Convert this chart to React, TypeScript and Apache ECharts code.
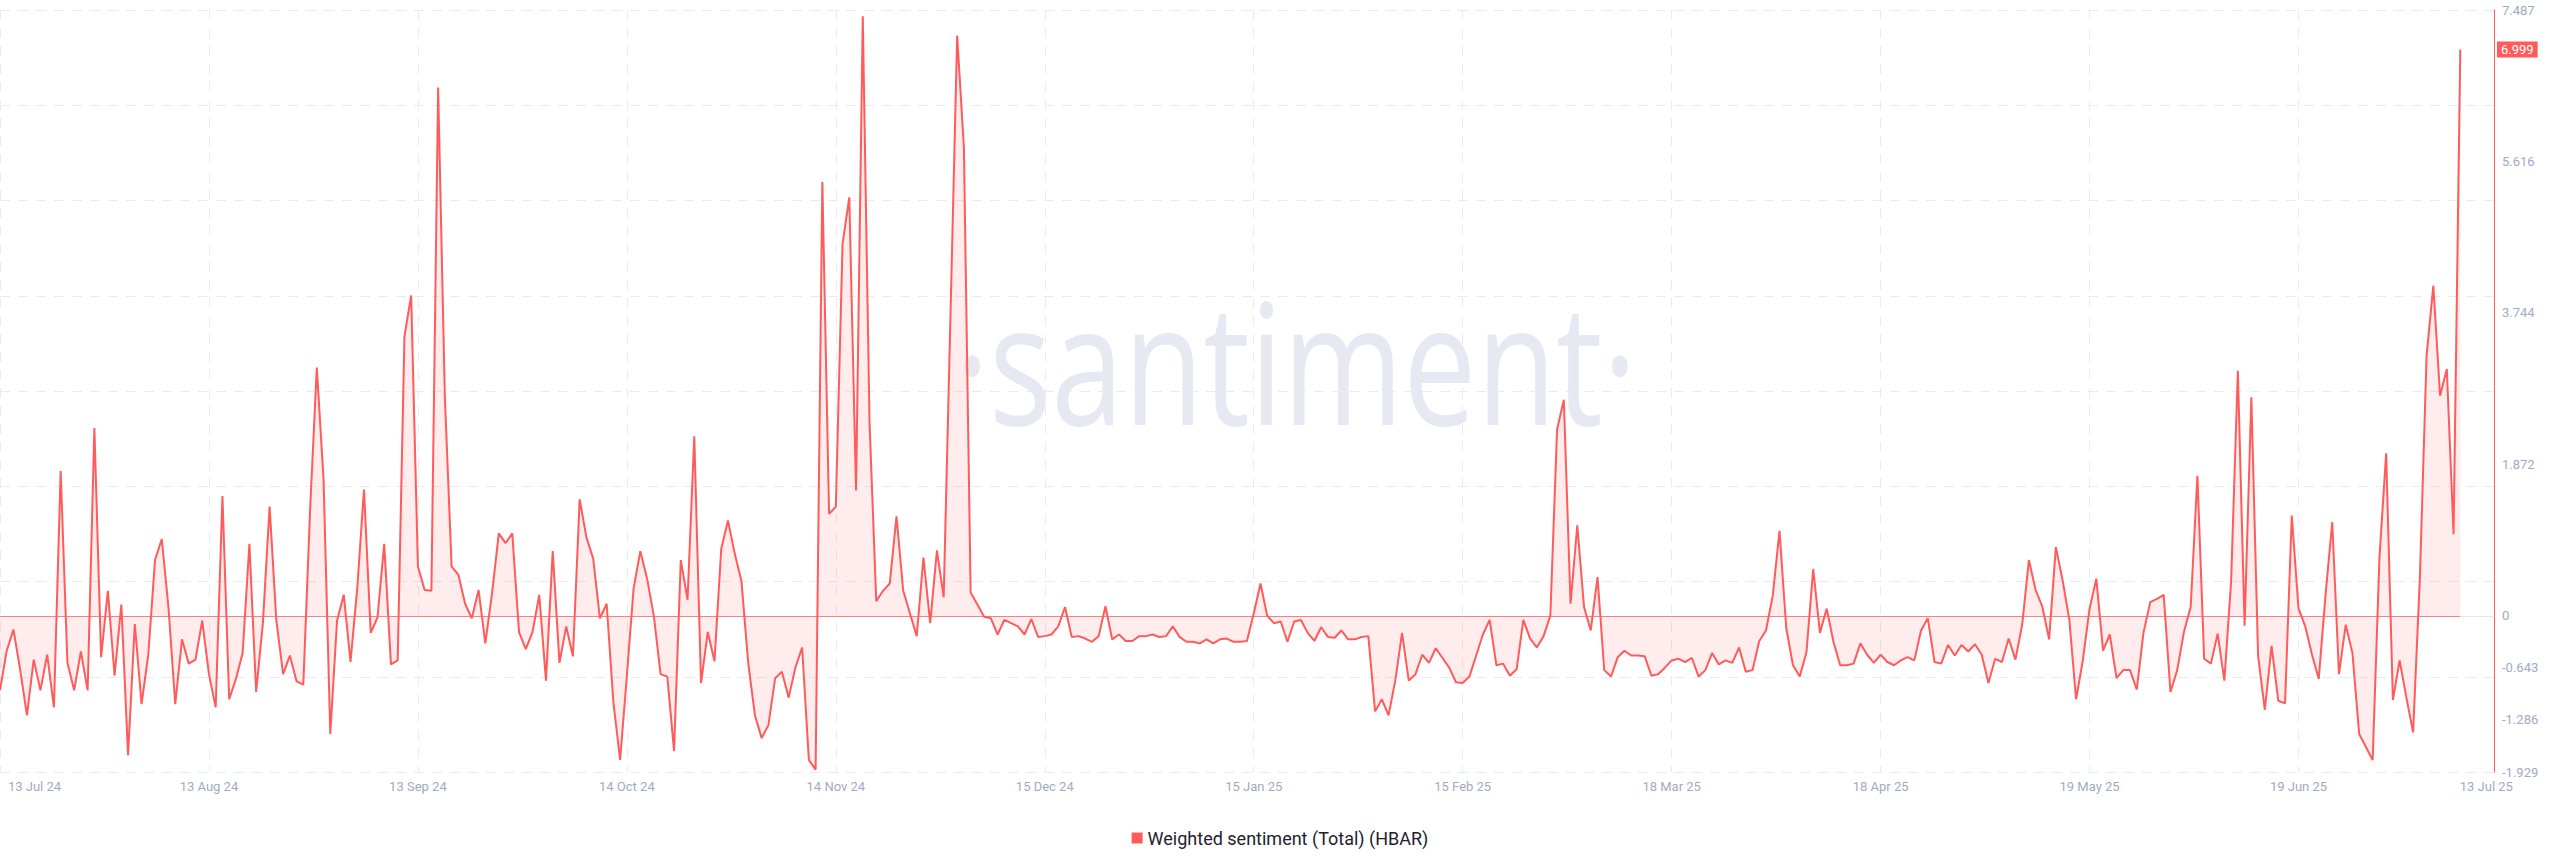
import React, { useEffect, useRef } from "react";
import * as echarts from "echarts";

// Weighted sentiment (Total) (HBAR), daily from 13 Jul 24 to 13 Jul 25
const SENT_JUL_SEP_24 = [
  -0.92, -0.43, -0.17, -0.67, -1.23, -0.54, -0.92, -0.48, -1.13, 1.79,
  -0.58, -0.92, -0.44, -0.92, 2.32, -0.51, 0.31, -0.74, 0.14, -1.72,
  -0.1, -1.09, -0.48, 0.69, 0.95, 0.1, -1.09, -0.29, -0.59, -0.54,
  -0.06, -0.72, -1.13, 1.48, -1.03, -0.78, -0.46, 0.89, -0.94, -0.09,
  1.35, -0.06, -0.72, -0.49, -0.81, -0.85, 1.3, 3.07, 1.69, -1.46,
  -0.06, 0.26, -0.57, 0.34, 1.56, -0.21, -0.02, 0.89, -0.6, -0.55,
  3.45, 3.96, 0.61, 0.32, 0.31, 6.53, 2.7, 0.61, 0.51, 0.15,
  -0.03, 0.32, -0.34, 0.28, 1.02, 0.9, 1.02, -0.2, -0.41, -0.2,
  0.26, -0.8, 0.8, -0.58, -0.13, -0.5, 1.44, 0.97, 0.71, -0.03,
  0.15,
];
const SENT_OCT_DEC_24 = [
  -1.07, -1.78, -0.74, 0.34, 0.8, 0.46, 0.0, -0.72, -0.75,
  -1.67, 0.69, 0.2, 2.22, -0.83, -0.2, -0.56, 0.83, 1.18, 0.77,
  0.43, -0.58, -1.23, -1.51, -1.35, -0.77, -0.69, -1.01, -0.64, -0.39,
  -1.78, -1.9, 5.36, 1.26, 1.35, 4.6, 5.17, 1.55, 7.41, 2.39,
  0.18, 0.31, 0.4, 1.23, 0.31, 0.03, -0.25, 0.72, -0.09, 0.81,
  0.23, 3.68, 7.17, 5.79, 0.29, 0.14, -0.01, -0.03, -0.23, -0.05,
  -0.09, -0.13, -0.23, -0.04, -0.26, -0.25, -0.23, -0.13, 0.11, -0.26,
  -0.25, -0.28, -0.32, -0.25, 0.12, -0.29, -0.23, -0.31, -0.31, -0.25,
  -0.25, -0.23, -0.26, -0.25, -0.13, -0.26, -0.32, -0.32, -0.34, -0.29,
  -0.34, -0.29,
];
const SENT_JAN_MAR_25 = [
  -0.28, -0.32, -0.32, -0.31, 0.03, 0.4, 0.0, -0.09, -0.07,
  -0.32, -0.07, -0.05, -0.21, -0.31, -0.14, -0.26, -0.27, -0.18, -0.29,
  -0.29, -0.26, -0.25, -1.18, -1.03, -1.23, -0.8, -0.21, -0.8, -0.72,
  -0.48, -0.58, -0.4, -0.52, -0.64, -0.82, -0.83, -0.75, -0.49, -0.23,
  -0.05, -0.61, -0.59, -0.74, -0.66, -0.05, -0.28, -0.39, -0.25, 0.0,
  2.3, 2.67, 0.15, 1.12, 0.11, -0.18, 0.48, -0.67, -0.75, -0.51,
  -0.43, -0.49, -0.49, -0.5, -0.74, -0.72, -0.64, -0.55, -0.53, -0.57,
  -0.52, -0.75, -0.67, -0.46, -0.6, -0.55, -0.58, -0.39, -0.69, -0.67,
  -0.31, -0.18, 0.25, 1.05, -0.15, -0.61, -0.75, -0.45, 0.58, -0.21,
  0.09, -0.32,
];
const SENT_APR_JUL_25 = [
  -0.61, -0.61, -0.59, -0.34, -0.48, -0.58, -0.48, -0.57, -0.61,
  -0.55, -0.51, -0.55, -0.18, -0.03, -0.57, -0.59, -0.36, -0.49, -0.36,
  -0.44, -0.35, -0.48, -0.83, -0.53, -0.57, -0.28, -0.54, -0.11, 0.69,
  0.32, 0.11, -0.29, 0.85, 0.44, -0.05, -1.03, -0.55, 0.09, 0.46,
  -0.43, -0.23, -0.77, -0.67, -0.67, -0.91, -0.21, 0.17, 0.21, 0.26,
  -0.94, -0.67, -0.2, 0.11, 1.73, -0.53, -0.59, -0.22, -0.8, 0.43,
  3.03, -0.12, 2.7, -0.49, -1.16, -0.37, -1.05, -1.08, 1.24, 0.09,
  -0.13, -0.48, -0.78, 0.25, 1.16, -0.72, -0.11, -0.46, -1.46, -1.62,
  -1.78, 0.71, 2.01, -1.04, -0.55, -1.01, -1.44, 0.46, 3.22, 4.08,
  2.72, 3.05, 1.01, 6.999,
];

const SERIES_NAME = "Weighted sentiment (Total) (HBAR)";
const Y_TICK_VALUES = [-1.929, -1.286, -0.643, 0, 1.872, 3.744, 5.616, 7.487];
const Y_MIN = -1.929;
const Y_MAX = 7.487;
const START_DATE = "2024-07-13";
const TICK_EVERY_DAYS = 31;
const MONTHS = ["Jan", "Feb", "Mar", "Apr", "May", "Jun", "Jul", "Aug", "Sep", "Oct", "Nov", "Dec"];

const values = [...SENT_JUL_SEP_24, ...SENT_OCT_DEC_24, ...SENT_JAN_MAR_25, ...SENT_APR_JUL_25];
const startMs = Date.parse(START_DATE + "T00:00:00Z");
const dates = values.map((_, i) => {
  const d = new Date(startMs + i * 86400000);
  return `${d.getUTCDate()} ${MONTHS[d.getUTCMonth()]} ${String(d.getUTCFullYear()).slice(2)}`;
});
const PAD = 5;
const categories = [...dates, ...new Array(PAD).fill("")];
const lastIdx = values.length - 1;
const lastValue = values[lastIdx];

const RED = "#ff5b5b";
const AXIS_TEXT = "#9faac4";
const GRID = "#e9ebf3";
const FONT = "Roboto";

export default function App() {
  const ref = useRef<HTMLDivElement>(null);
  useEffect(() => {
    if (!ref.current) return;
    const chart = echarts.init(ref.current, null, { renderer: "svg" });
    const lastTickIdx = Math.floor((lastIdx - 20) / TICK_EVERY_DAYS) * TICK_EVERY_DAYS;
    chart.setOption({
      animation: false,
      backgroundColor: "#ffffff",
      grid: { left: 0, right: 66, top: 10, bottom: 95, containLabel: false },
      graphic: [
        {
          type: "text",
          x: 1296,
          y: 360,
          z: 0,
          scaleX: 0.775,
          silent: true,
          style: {
            text: "·santiment·",
            fontSize: 168,
            fontFamily: "Open Sans",
            fill: "#e6e9f2",
            textAlign: "center",
            textVerticalAlign: "middle",
          },
        },
      ],
      legend: {
        data: [SERIES_NAME],
        top: 824,
        left: "center",
        icon: "rect",
        itemWidth: 11,
        itemHeight: 11,
        itemGap: 10,
        textStyle: { fontSize: 18, color: "#1e222d", fontFamily: FONT },
      },
      xAxis: {
        type: "category",
        boundaryGap: false,
        data: categories,
        axisLine: { show: true, lineStyle: { color: "#e3e6f0", width: 1 } },
        axisTick: { show: false },
        splitLine: {
          show: true,
          interval: (i: number) => i % TICK_EVERY_DAYS === 0 && i <= lastTickIdx,
          lineStyle: { color: GRID, type: [10, 8], width: 1 },
        },
        axisLabel: {
          interval: (i: number) => (i % TICK_EVERY_DAYS === 0 && i <= lastTickIdx) || i === lastIdx,
          formatter: (v: string, i: number) =>
            i === 0 ? `{first|${v}}` : i === lastIdx ? `{last|${v}}` : v,
          color: AXIS_TEXT,
          fontSize: 13,
          fontFamily: FONT,
          margin: 8,
          rich: {
            first: { padding: [0, 0, 0, 69], color: AXIS_TEXT, fontSize: 13, fontFamily: FONT },
            last: { padding: [0, 0, 0, 52], color: AXIS_TEXT, fontSize: 13, fontFamily: FONT },
          },
        },
      },
      yAxis: [
        {
          type: "value",
          position: "right",
          min: Y_MIN,
          max: Y_MAX,
          splitLine: { show: false },
          axisLine: { show: true, lineStyle: { color: RED, width: 1 } },
          axisTick: { show: false },
          axisLabel: {
            customValues: Y_TICK_VALUES,
            formatter: (v: number) => String(Number(v.toFixed(3))),
            color: AXIS_TEXT,
            fontSize: 13,
            fontFamily: FONT,
            margin: 8,
            showMinLabel: true,
            showMaxLabel: true,
          },
        },
        {
          type: "value",
          position: "right",
          min: 0,
          max: 8,
          interval: 1,
          axisLine: { show: false },
          axisTick: { show: false },
          axisLabel: { show: false },
          splitLine: { show: true, lineStyle: { color: GRID, type: [10, 8], width: 1 } },
        },
      ],
      series: [
        {
          name: SERIES_NAME,
          type: "line",
          data: values,
          yAxisIndex: 0,
          symbol: "none",
          z: 3,
          lineStyle: { color: RED, width: 2 },
          itemStyle: { color: RED },
          areaStyle: { color: "rgba(255, 91, 91, 0.16)" },
          markLine: {
            silent: true,
            symbol: "none",
            animation: false,
            data: [
              [
                {
                  coord: [dates[0], 0],
                  lineStyle: { color: "rgba(255, 91, 91, 0.7)", width: 1, type: "solid" },
                  label: { show: false },
                },
                { coord: [dates[lastIdx], 0] },
              ],
              {
                yAxis: lastValue,
                lineStyle: { color: "rgba(255,255,255,0)", width: 1, type: "solid" },
                label: {
                  show: true,
                  position: "end",
                  distance: 3,
                  formatter: String(lastValue),
                  color: "#ffffff",
                  backgroundColor: RED,
                  padding: [2, 4, 1, 4],
                  fontSize: 13,
                  fontFamily: FONT,
                  opacity: 1,
                },
              },
            ],
          },
        },
      ],
    });
    return () => chart.dispose();
  }, []);
  return (
    <div
      ref={ref}
      style={{ position: "fixed", left: 0, top: 0, width: 2560, height: 867, background: "#fff" }}
    />
  );
}
